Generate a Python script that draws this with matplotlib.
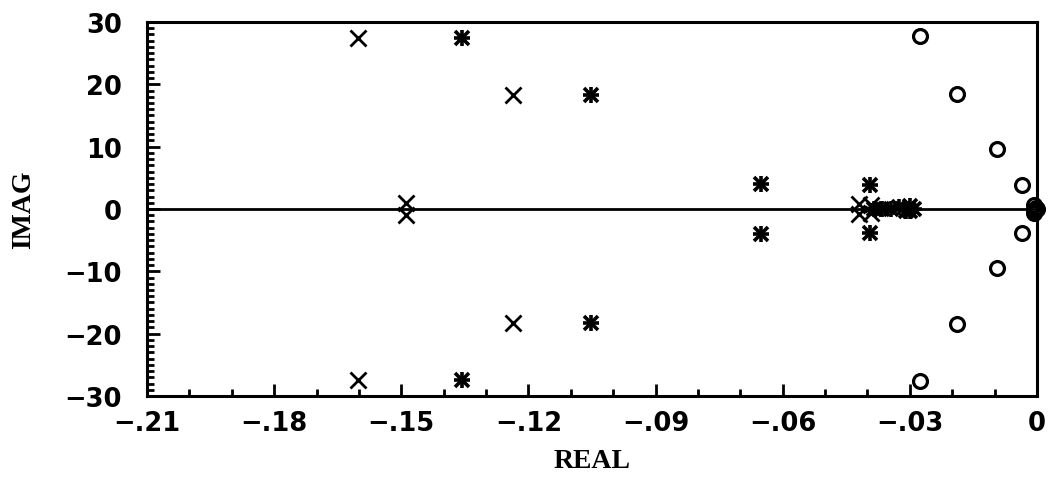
import numpy as np
import matplotlib
matplotlib.use("Agg")
import matplotlib.pyplot as plt
from matplotlib.ticker import MultipleLocator, FuncFormatter

# poles / roots (real, imag)
x_real = [-0.1602, -0.1602, -0.1489, -0.1489, -0.1236, -0.1236,
          -0.0420, -0.0420, -0.0392, -0.0392]
x_imag = [27.4, -27.4, 1.0, -1.0, 18.3, -18.3, 0.8, -0.8, 0.6, -0.6]

ast_real = [-0.1357, -0.1357, -0.1052, -0.1052, -0.0651, -0.0651,
            -0.0394, -0.0394, -0.0385, -0.0365, -0.0345, -0.0325,
            -0.0310, -0.0300, -0.0290, -0.0300]
ast_imag = [27.4, -27.4, 18.3, -18.3, 4.0, -4.0,
            3.8, -3.8, 0.0, 0.0, 0.0, 0.3,
            -0.3, 0.4, 0.0, -0.4]

o_real = [-0.0276, -0.0276, -0.0188, -0.0188, -0.0095, -0.0095,
          -0.0036, -0.0036, -0.0006, -0.0006, -0.0003, -0.0008, 0.0]
o_imag = [27.8, -27.6, 18.4, -18.4, 9.6, -9.5,
          3.9, -3.8, 0.6, -0.6, 0.2, -0.2, 0.0]

XTICKS = [-0.21, -0.18, -0.15, -0.12, -0.09, -0.06, -0.03, 0.0]
YTICKS = [-30, -20, -10, 0, 10, 20, 30]

TICK_FONT = "DejaVu Sans"
LABEL_FONT = "Liberation Serif"


def fmt_x(v, pos):
    if abs(v) < 1e-9:
        return "0"
    s = f"{abs(v):.2f}".lstrip("0")
    return ("\u2212" if v < 0 else "") + s


def fmt_y(v, pos):
    if abs(v) < 1e-9:
        return "0"
    return ("\u2212" if v < 0 else "") + f"{abs(v):.0f}"


fig = plt.figure(figsize=(10.53, 4.81), dpi=100)
ax = fig.add_axes([0.1396, 0.1747, 0.8452, 0.7775])

ax.axhline(0, color="black", lw=2.0, zorder=1)

ax.plot(x_real, x_imag, ls="none", marker="x", ms=11, mew=2.0,
        color="black", clip_on=False, zorder=3)
# asterisks: an x and a + laid over each other
ax.plot(ast_real, ast_imag, ls="none", marker="x", ms=10, mew=2.6,
        color="black", clip_on=False, zorder=3)
ax.plot(ast_real, ast_imag, ls="none", marker="+", ms=11, mew=2.6,
        color="black", clip_on=False, zorder=3)
ax.plot(o_real, o_imag, ls="none", marker="o", ms=10, mew=2.3,
        mfc="none", color="black", clip_on=False, zorder=3)

ax.set_xlim(-0.21, 0.0)
ax.set_ylim(-30, 30)
ax.set_xticks(XTICKS)
ax.set_yticks(YTICKS)
ax.xaxis.set_minor_locator(MultipleLocator(0.01))
ax.yaxis.set_minor_locator(MultipleLocator(1))
ax.xaxis.set_major_formatter(FuncFormatter(fmt_x))
ax.yaxis.set_major_formatter(FuncFormatter(fmt_y))

ax.tick_params(which="both", direction="in", top=False, right=False,
               width=2.0, color="black")
ax.tick_params(which="major", length=9)
ax.tick_params(which="minor", length=5)
ax.tick_params(axis="y", which="major", pad=18)
ax.tick_params(axis="x", which="major", pad=10)

for lab in ax.get_xticklabels() + ax.get_yticklabels():
    lab.set_fontfamily(TICK_FONT)
    lab.set_fontweight("bold")
    lab.set_fontsize(18.5)

for sp in ax.spines.values():
    sp.set_linewidth(2.2)

ax.set_xlabel("REAL", fontfamily=LABEL_FONT, fontweight="bold", fontsize=20)
ax.set_ylabel("IMAG", fontfamily=LABEL_FONT, fontweight="bold", fontsize=20)
ax.xaxis.set_label_coords(0.5, -0.14)
ax.yaxis.set_label_coords(-0.125, 0.5)

fig.savefig("out.png", dpi=100)
plt.close(fig)
